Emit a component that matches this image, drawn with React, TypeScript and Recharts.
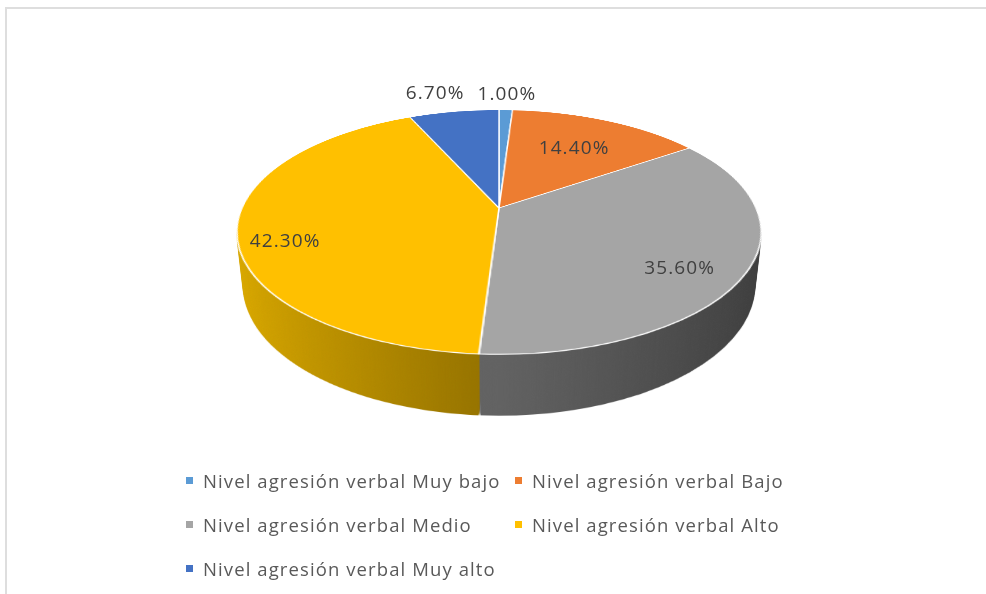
import React from 'react';
import { PieChart, Pie, Cell, Legend } from 'recharts';

const CATEGORIES = [
  'Nivel agresión verbal Muy bajo',
  'Nivel agresión verbal Bajo',
  'Nivel agresión verbal Medio',
  'Nivel agresión verbal Alto',
  'Nivel agresión verbal Muy alto',
];
const VALUES = [1.0, 14.4, 35.6, 42.3, 6.7];

const TOP_COLORS = ['#5B9BD5', '#ED7D31', '#A5A5A5', '#FFC000', '#4472C4'];
// side wall shading, light -> dark
const SIDE_COLORS = [
  ['#4a80b2', '#2f5a82'],
  ['#c7652a', '#8e461c'],
  ['#626262', '#3c3c3c'],
  ['#dcaa00', '#927000'],
  ['#3a62a8', '#274577'],
];

// where each % label sits, as a share of the radius, plus a small nudge
const LABEL_RADIUS = [1.216, 0.66, 0.78, 0.84, 1.216];
const LABEL_SHIFT = [[0, 0], [0, 0], [-8, 10], [5, 14], [-11, -3]];

const data = CATEGORIES.map((name, i) => ({ name, value: VALUES[i] }));

// fake 3D: a flat pie tilted with css perspective, stacked for the wall
const W = 986;
const H = 594;
const CX = 499;
const CY = 208;
const R = 257;
const TILT = 62.8;
const PERSP = 1160;
const DEPTH = 61;
const LAYER = 560;

const FONT = '"Open Sans", sans-serif';

const DiscLayer = ({ z, side }: { z: number; side: boolean }) => (
  <div
    style={{
      position: 'absolute',
      left: 0,
      top: 0,
      width: LAYER,
      height: LAYER,
      transform: `translateZ(${z}px)`,
    }}
  >
    <PieChart width={LAYER} height={LAYER} margin={{ top: 0, right: 0, bottom: 0, left: 0 }}>
      {side && (
        <defs>
          {SIDE_COLORS.map((c, i) => {
            // yellow lit from the left, the rest darken to the right
            const x1 = i === 3 ? LAYER / 2 - R : LAYER / 2;
            const x2 = i === 3 ? LAYER / 2 : LAYER / 2 + R;
            return (
              <linearGradient key={i} id={`side-${i}`} gradientUnits="userSpaceOnUse" x1={x1} y1={0} x2={x2} y2={0}>
                <stop offset="0%" stopColor={c[0]} />
                <stop offset="100%" stopColor={c[1]} />
              </linearGradient>
            );
          })}
        </defs>
      )}
      <Pie
        data={data}
        dataKey="value"
        cx={LAYER / 2}
        cy={LAYER / 2}
        outerRadius={R}
        startAngle={90}
        endAngle={-270}
        paddingAngle={side ? 0.3 : 0}
        stroke={side ? 'none' : '#ffffff'}
        strokeWidth={side ? 0 : 1.5}
        isAnimationActive={false}
      >
        {data.map((d, i) => (
          <Cell key={d.name} fill={side ? `url(#side-${i})` : TOP_COLORS[i]} />
        ))}
      </Pie>
    </PieChart>
  </div>
);

const renderLabel = (props: any) => {
  const { cx, cy, midAngle, outerRadius, index } = props;
  const rad = Math.PI / 180;
  const r = outerRadius * LABEL_RADIUS[index];
  const lx = r * Math.cos(-midAngle * rad);
  const ly = r * Math.sin(-midAngle * rad);
  const t = TILT * rad;
  const yy = ly * Math.cos(t);
  const zz = ly * Math.sin(t);
  const s = PERSP / (PERSP - zz);
  const x = cx + lx * s + LABEL_SHIFT[index][0];
  const y = cy + yy * s + LABEL_SHIFT[index][1];
  return (
    <text
      x={x}
      y={y}
      textAnchor="middle"
      dominantBaseline="central"
      fill="#404040"
      fontSize={19}
      letterSpacing={1.1}
      fontFamily={FONT}
    >
      {`${VALUES[index].toFixed(2)}%`}
    </text>
  );
};

const renderLegend = (props: any) => {
  const { payload } = props;
  return (
    <div style={{ display: 'grid', gridTemplateColumns: '329px auto', rowGap: 0 }}>
      {(payload || []).map((entry: any, i: number) => (
        <div key={i} style={{ display: 'flex', alignItems: 'center', height: 44 }}>
          <span style={{ width: 7, height: 7, background: TOP_COLORS[i], marginRight: 10, flex: 'none' }} />
          <span
            style={{
              fontFamily: FONT,
              fontSize: 18.5,
              letterSpacing: 1.1,
              color: '#595959',
              whiteSpace: 'nowrap',
            }}
          >
            {CATEGORIES[i]}
          </span>
        </div>
      ))}
    </div>
  );
};

const layers: number[] = [];
for (let k = DEPTH; k >= 1; k -= 1) layers.push(-k);

export default function App() {
  return (
    <div style={{ position: 'absolute', left: 0, top: 0, width: W, height: H, background: '#fff', overflow: 'hidden' }}>
      <div
        style={{
          position: 'absolute',
          left: 5,
          top: 7,
          width: W,
          height: H,
          borderTop: '2px solid #dedede',
          borderLeft: '2px solid #dedede',
        }}
      />
      <div
        style={{
          position: 'absolute',
          left: 0,
          top: 0,
          width: W,
          height: H,
          perspective: `${PERSP}px`,
          perspectiveOrigin: `${CX}px ${CY}px`,
        }}
      >
        <div
          style={{
            position: 'absolute',
            left: CX - LAYER / 2,
            top: CY - LAYER / 2,
            width: LAYER,
            height: LAYER,
            transformStyle: 'preserve-3d',
            transform: `rotateX(${TILT}deg)`,
          }}
        >
          {layers.map((z) => (
            <DiscLayer key={z} z={z} side />
          ))}
          <DiscLayer z={0} side={false} />
        </div>
      </div>
      <div style={{ position: 'absolute', left: 0, top: 0 }}>
        <PieChart width={W} height={H} margin={{ top: 0, right: 0, bottom: 0, left: 0 }}>
          <Pie
            data={data}
            dataKey="value"
            cx={CX}
            cy={CY}
            outerRadius={R}
            startAngle={90}
            endAngle={-270}
            stroke="none"
            label={renderLabel}
            labelLine={false}
            isAnimationActive={false}
          >
            {data.map((d) => (
              <Cell key={d.name} fill="transparent" />
            ))}
          </Pie>
          <Legend
            verticalAlign="bottom"
            content={renderLegend}
            wrapperStyle={{ position: 'absolute', left: 186, top: 458, bottom: 'auto', width: 700 }}
          />
        </PieChart>
      </div>
    </div>
  );
}
